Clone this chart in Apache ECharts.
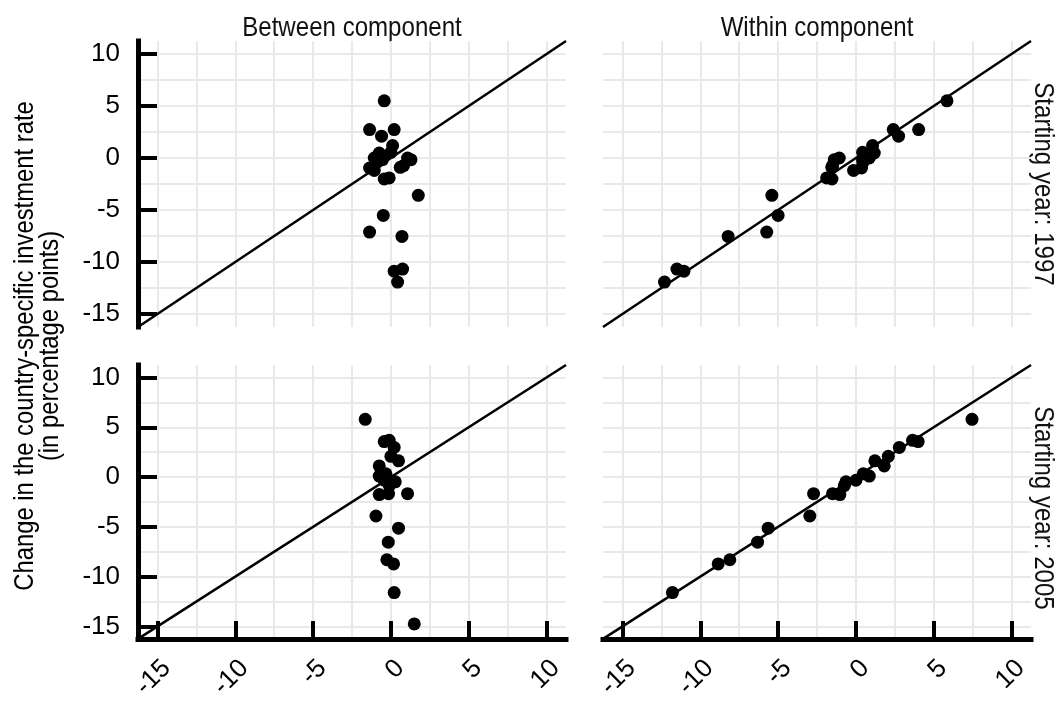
<!DOCTYPE html>
<html><head><meta charset="utf-8">
<script src="https://cdn.jsdelivr.net/npm/echarts@6/dist/echarts.min.js"></script>
<style>html,body{margin:0;padding:0;background:#fff}#c{width:1056px;height:702px}</style>
</head><body><div id="c"></div>
<script>
// ---------- data ----------
const columnTitles = ['Between component', 'Within component'];
const rowTitles = ['Starting year: 1997', 'Starting year: 2005'];
const yTitle = ['Change in the country-specific investment rate', '(in percentage points)'];
const axisRange = [-16.25, 11.25];
const majorTicks = [-15, -10, -5, 0, 5, 10];
const gridTicks = [-15, -12.5, -10, -7.5, -5, -2.5, 0, 2.5, 5, 7.5, 10];
const refLine = [-16.25, 11.25];

// starting year 1997
const y1997 = [5.5, 2.73, 2.73, 2.1, 1.2, 0.55, 0.48, 0.0, -0.16, -0.42, -0.96, -1.19, 0.0, -0.16, -0.74, -0.9, -2.02, -1.92, -3.59, -5.52, -7.12, -7.54, -10.88, -10.68, -11.93];
const between1997 = [-0.43, -1.37, 0.21, -0.6, 0.11, 0.0, -0.75, -1.07, -0.54, -0.9, -1.37, -1.07, 1.07, 1.29, 0.81, 0.6, -0.43, -0.11, 1.76, -0.49, -1.37, 0.71, 0.21, 0.75, 0.43];
const within1997 = [5.85, 4.03, 2.4, 2.74, 1.07, 0.43, 1.18, 0.86, 0.43, 0.45, 0.36, -0.15, -1.07, -1.39, -1.5, -1.55, -1.54, -1.88, -5.4, -5.0, -5.73, -8.21, -11.05, -11.5, -12.3];

// starting year 2005
const y2005 = [5.8, 3.56, 3.69, 2.98, 2.08, 1.63, 1.12, 0.1, 0.32, -0.32, -0.48, -0.87, -1.76, -1.67, -1.67, -3.91, -5.13, -6.54, -8.3, -8.72, -11.6, -14.74];
const between2005 = [-1.65, -0.43, -0.11, 0.21, 0.0, 0.49, -0.75, -0.75, -0.32, -0.43, 0.28, -0.1, -0.75, -0.15, 1.07, -0.96, 0.49, -0.17, -0.26, 0.17, 0.21, 1.5];
const within2005 = [7.46, 4.0, 3.64, 2.79, 2.08, 1.22, 1.82, 0.86, 0.47, 0.0, -0.64, -0.75, -1.03, -1.5, -2.72, -2.96, -5.64, -6.32, -8.1, -8.85, -11.79, -16.3];

// ---------- layout ----------
const FONT = "'Liberation Sans Narrow', 'Arial Narrow', 'Liberation Sans', Arial, sans-serif";
const colLeft = [138, 603];
const rowTop = [41, 365];
const W = 428, H = 286;
const NARROW = 0.86;

const panels = [
  { row: 0, col: 0, xs: between1997, ys: y1997 },
  { row: 0, col: 1, xs: within1997, ys: y1997 },
  { row: 1, col: 0, xs: between2005, ys: y2005 },
  { row: 1, col: 1, xs: within2005, ys: y2005 }
];

const grids = [], xAxes = [], yAxes = [], series = [];
const hiddenBase = {
  min: axisRange[0], max: axisRange[1], z: 0, silent: true,
  axisLine: { show: false }, axisLabel: { show: false },
  axisTick: { show: false, customValues: gridTicks },
  splitLine: { show: true, lineStyle: { color: '#e9e9e9', width: 2 } }
};

panels.forEach((p, i) => {
  grids.push({ left: colLeft[p.col], top: rowTop[p.row], width: W, height: H, containLabel: false });
  const showX = p.row === 1, showY = p.col === 0;
  xAxes.push({
    type: 'value', gridIndex: i, min: axisRange[0], max: axisRange[1], z: 1,
    axisLine: { show: showX, onZero: false, lineStyle: { color: '#000', width: 5, cap: 'square' } },
    axisTick: { show: showX, inside: true, length: 18, customValues: majorTicks, lineStyle: { color: '#000', width: 4 } },
    axisLabel: { show: showX, customValues: majorTicks, rotate: 45, align: 'right', verticalAlign: 'top', margin: 16,
      fontFamily: FONT, fontSize: 26, color: '#000' },
    splitLine: { show: false }
  });
  yAxes.push({
    type: 'value', gridIndex: i, min: axisRange[0], max: axisRange[1], z: 1,
    axisLine: { show: showY, onZero: false, lineStyle: { color: '#000', width: 5, cap: 'square' } },
    axisTick: { show: showY, inside: true, length: 19, customValues: majorTicks, lineStyle: { color: '#000', width: 4 } },
    axisLabel: { show: showY, customValues: majorTicks, margin: 18, fontFamily: FONT, fontSize: 26, color: '#000' },
    splitLine: { show: false }
  });
  series.push({
    type: 'line', xAxisIndex: i, yAxisIndex: i, z: 2, silent: true,
    data: [[refLine[0], refLine[0]], [refLine[1], refLine[1]]],
    symbol: 'none', lineStyle: { color: '#000', width: 2.5 }
  });
  series.push({
    type: 'scatter', xAxisIndex: i, yAxisIndex: i, z: 3, clip: true,
    data: p.xs.map((x, k) => [x, p.ys[k]]),
    symbol: 'circle', symbolSize: 13, itemStyle: { color: '#000', opacity: 1 }
  });
});
panels.forEach((p, i) => {
  xAxes.push(Object.assign({ type: 'value', gridIndex: i }, hiddenBase));
  yAxes.push(Object.assign({ type: 'value', gridIndex: i }, hiddenBase));
});

const graphics = [];
columnTitles.forEach((t, c) => {
  graphics.push({ type: 'text', x: colLeft[c] + W / 2, y: 28, scaleX: NARROW,
    style: { text: t, font: `28px ${FONT}`, fill: '#111', textAlign: 'center', textVerticalAlign: 'middle' } });
});
rowTitles.forEach((t, r) => {
  graphics.push({ type: 'text', x: 1043, y: rowTop[r] + H / 2, rotation: -Math.PI / 2, scaleX: NARROW,
    style: { text: t, font: `28px ${FONT}`, fill: '#111', textAlign: 'center', textVerticalAlign: 'middle' } });
});
graphics.push({ type: 'text', x: 38, y: (rowTop[0] + rowTop[1] + H) / 2, rotation: Math.PI / 2, scaleX: 0.85,
  style: { text: yTitle.join('\n'), font: `28px ${FONT}`, lineHeight: 25, fill: '#000', textAlign: 'center', textVerticalAlign: 'middle' } });

const chart = echarts.init(document.getElementById('c'), null, { renderer: 'canvas' });
chart.setOption({
  animation: false,
  backgroundColor: '#fff',
  grid: grids, xAxis: xAxes, yAxis: yAxes, series: series, graphic: graphics
});
</script></body></html>
